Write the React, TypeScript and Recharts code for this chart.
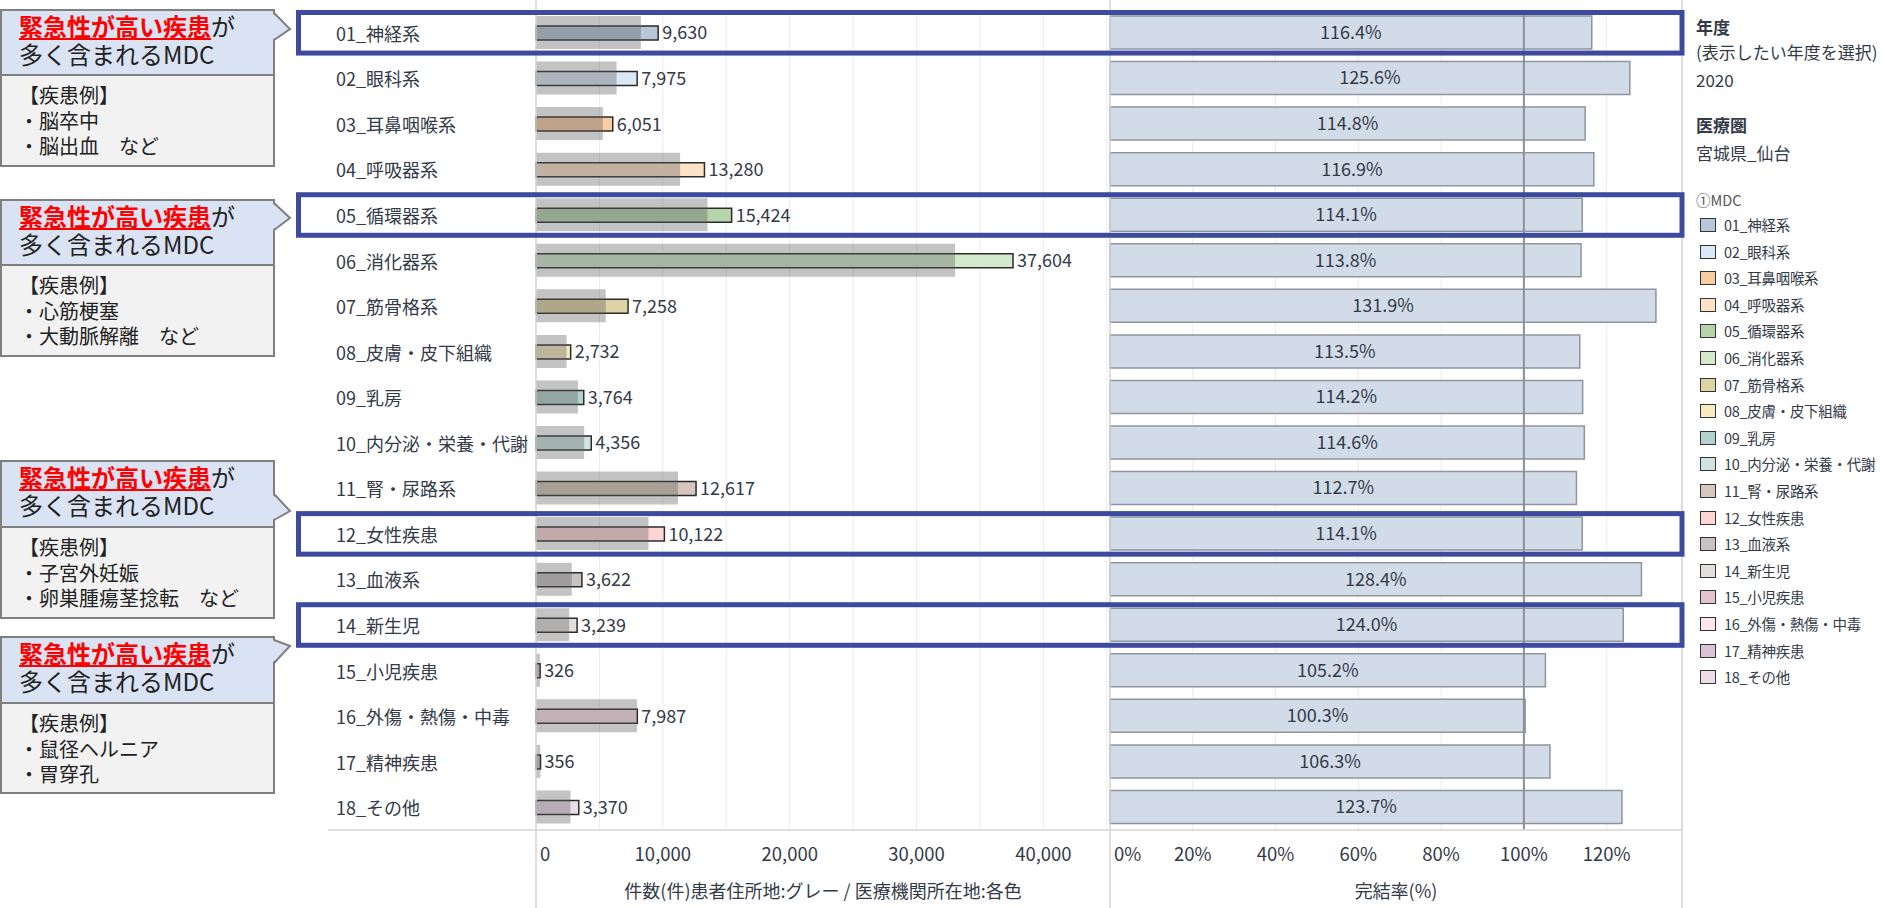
import React from 'react';
import {
  BarChart,
  Bar,
  XAxis,
  YAxis,
  CartesianGrid,
  Cell,
  LabelList,
  ReferenceLine,
} from 'recharts';

const MDC = [
  '01_神経系', '02_眼科系', '03_耳鼻咽喉系', '04_呼吸器系', '05_循環器系', '06_消化器系',
  '07_筋骨格系', '08_皮膚・皮下組織', '09_乳房', '10_内分泌・栄養・代謝', '11_腎・尿路系',
  '12_女性疾患', '13_血液系', '14_新生児', '15_小児疾患', '16_外傷・熱傷・中毒',
  '17_精神疾患', '18_その他',
];

// 医療機関所在地ベースの件数 (colored bars)
const HOSPITAL = [9630, 7975, 6051, 13280, 15424, 37604, 7258, 2732, 3764, 4356, 12617, 10122, 3622, 3239, 326, 7987, 356, 3370];
// 患者住所地ベースの件数 (gray bars)
const RESIDENCE = [8270, 6350, 5270, 11360, 13520, 33040, 5500, 2410, 3300, 3800, 11200, 8870, 2820, 2610, 310, 7960, 335, 2720];
// 完結率 (%)
const RATE = [116.4, 125.6, 114.8, 116.9, 114.1, 113.8, 131.9, 113.5, 114.2, 114.6, 112.7, 114.1, 128.4, 124.0, 105.2, 100.3, 106.3, 123.7];

const COLORS = [
  '#b7c6d8', '#dbe8f5', '#f8cda3', '#fde2c8', '#b5d4ae', '#d3ebcb', '#ded3a5', '#f8ebbf', '#b2d2cf',
  '#cfe4e1', '#d5c7bd', '#fdd5d5', '#c7c3c3', '#e2e0de', '#e6c1ce', '#fde5ed', '#dac3d5', '#ecdcea',
];

const COUNT_TICKS = [0, 5000, 10000, 15000, 20000, 25000, 30000, 35000, 40000, 45000];
const RATE_TICKS = [0, 20, 40, 60, 80, 100, 120];

const HIGHLIGHTED = ['01_神経系', '05_循環器系', '12_女性疾患', '14_新生児'];

const CALLOUTS = [
  { top: 10, headBottom: 75, bottom: 166, notch: [13, 29, 40], examples: ['・脳卒中', '・脳出血　など'] },
  { top: 200, headBottom: 265, bottom: 356, notch: [203, 218, 230], examples: ['・心筋梗塞', '・大動脈解離　など'] },
  { top: 461, headBottom: 527, bottom: 618, notch: [494, 511, 520], examples: ['・子宮外妊娠', '・卵巣腫瘍茎捻転　など'] },
  { top: 637, headBottom: 703, bottom: 793, notch: [640, 646, 663], examples: ['・鼠径ヘルニア', '・胃穿孔'] },
];

const FONT = '"Noto Sans CJK JP", "Noto Sans", sans-serif';
const TEXT = '#333a48';
const PLOT_TOP = 10;
const PLOT_BOTTOM = 830;
const BAND = (PLOT_BOTTOM - PLOT_TOP) / MDC.length;

const data = MDC.map((name, i) => ({
  name,
  hospital: HOSPITAL[i],
  residence: RESIDENCE[i],
  rate: RATE[i],
}));

function CategoryTick(props: any) {
  const { y, payload } = props;
  return (
    <text x={46} y={y} dominantBaseline="central" fontSize={18} fill={TEXT} fontFamily={FONT}>
      {payload.value}
    </text>
  );
}

function CountTick(props: any) {
  const { x, payload } = props;
  const v = payload.value as number;
  if (v % 10000 !== 0) return <g />;
  return (
    <text
      x={v === 0 ? x + 4 : x}
      y={853}
      textAnchor={v === 0 ? 'start' : 'middle'}
      dominantBaseline="central"
      fontSize={18.5}
      fill={TEXT}
      fontFamily={FONT}
    >
      {v.toLocaleString('en-US')}
    </text>
  );
}

function RateTick(props: any) {
  const { x, payload } = props;
  const v = payload.value as number;
  return (
    <text
      x={v === 0 ? x + 4 : x}
      y={853}
      textAnchor={v === 0 ? 'start' : 'middle'}
      dominantBaseline="central"
      fontSize={18.5}
      fill={TEXT}
      fontFamily={FONT}
    >
      {v}%
    </text>
  );
}

function CountChart() {
  return (
    <div style={{ position: 'absolute', left: 290, top: 0 }}>
      <BarChart
        width={820}
        height={908}
        data={data}
        layout="vertical"
        margin={{ top: PLOT_TOP, right: 0, left: 0, bottom: 0 }}
      >
        <CartesianGrid horizontal={false} stroke="#ececec" />
        <XAxis
          type="number"
          domain={[0, 45250]}
          ticks={COUNT_TICKS}
          interval={0}
          height={78}
          axisLine={false}
          tickLine={false}
          tick={CountTick}
          label={{
            value: '件数(件)患者住所地:グレー / 医療機関所在地:各色',
            position: 'insideBottom',
            offset: 10,
            fill: TEXT,
            fontSize: 18,
            fontFamily: FONT,
          }}
        />
        <YAxis
          yAxisId="outer"
          type="category"
          dataKey="name"
          width={246}
          axisLine={false}
          tickLine={false}
          tick={CategoryTick}
          interval={0}
        />
        <YAxis yAxisId="inner" type="category" dataKey="name" hide />
        <Bar
          yAxisId="inner"
          dataKey="hospital"
          barSize={14}
          stroke="#2b2b2b"
          strokeWidth={1.5}
          isAnimationActive={false}
        >
          {data.map((d, i) => (
            <Cell key={d.name} fill={COLORS[i]} />
          ))}
          <LabelList
            dataKey="hospital"
            position="right"
            offset={4}
            formatter={(v: any) => Number(v).toLocaleString('en-US')}
            fill={TEXT}
            fontSize={18}
            fontFamily={FONT}
          />
        </Bar>
        <Bar
          yAxisId="outer"
          dataKey="residence"
          barSize={33}
          fill="#5d5d5d"
          fillOpacity={0.37}
          isAnimationActive={false}
        />
      </BarChart>
    </div>
  );
}

function RateChart() {
  return (
    <div style={{ position: 'absolute', left: 1100, top: 0 }}>
      <BarChart
        width={590}
        height={908}
        data={data}
        layout="vertical"
        margin={{ top: PLOT_TOP, right: 8, left: 10, bottom: 0 }}
      >
        <CartesianGrid horizontal={false} stroke="#ececec" />
        <XAxis
          type="number"
          domain={[0, 138.2]}
          ticks={RATE_TICKS}
          interval={0}
          height={78}
          axisLine={false}
          tickLine={false}
          tick={RateTick}
          label={{
            value: '完結率(%)',
            position: 'insideBottom',
            offset: 10,
            fill: TEXT,
            fontSize: 18,
            fontFamily: FONT,
          }}
        />
        <YAxis type="category" dataKey="name" hide />
        <Bar
          dataKey="rate"
          barSize={33}
          fill="#d2dce8"
          stroke="#8e959f"
          strokeWidth={1.5}
          isAnimationActive={false}
        >
          <LabelList
            dataKey="rate"
            position="center"
            formatter={(v: any) => `${Number(v).toFixed(1)}%`}
            fill={TEXT}
            fontSize={18}
            fontFamily={FONT}
          />
        </Bar>
        <ReferenceLine x={100} stroke="#8a9099" strokeWidth={2} />
      </BarChart>
    </div>
  );
}

function Overlay() {
  return (
    <svg
      width={1882}
      height={908}
      style={{ position: 'absolute', left: 0, top: 0, pointerEvents: 'none' }}
    >
      {/* panel frame lines */}
      <line x1={536} y1={0} x2={536} y2={908} stroke="#d4d4d4" strokeWidth={1.5} />
      <line x1={1110} y1={0} x2={1110} y2={908} stroke="#d4d4d4" strokeWidth={1.5} />
      <line x1={1682} y1={0} x2={1682} y2={908} stroke="#d4d4d4" strokeWidth={1.5} />
      <line x1={328} y1={PLOT_BOTTOM} x2={1682} y2={PLOT_BOTTOM} stroke="#d4d4d4" strokeWidth={1.5} />

      {/* highlighted MDC rows */}
      {HIGHLIGHTED.map((name) => {
        const idx = MDC.indexOf(name);
        const y = PLOT_TOP + idx * BAND;
        return (
          <rect
            key={name}
            x={298.5}
            y={y + 2.5}
            width={1682 - 298.5}
            height={BAND - 5}
            fill="none"
            stroke="#3d4a9e"
            strokeWidth={5}
          />
        );
      })}

      {/* callout boxes */}
      {CALLOUTS.map((c, i) => (
        <g key={i}>
          <rect x={1} y={c.top} width={273} height={c.headBottom - c.top} fill="#dae3f3" stroke="#7f7f7f" strokeWidth={2} />
          <rect x={1} y={c.headBottom} width={273} height={c.bottom - c.headBottom} fill="#f2f2f2" stroke="#7f7f7f" strokeWidth={2} />
          <polygon
            points={`272,${c.notch[0]} 290,${c.notch[1]} 272,${c.notch[2]}`}
            fill="#dae3f3"
          />
          <polyline
            points={`274,${c.notch[0]} 290,${c.notch[1]} 274,${c.notch[2]}`}
            fill="none"
            stroke="#7f7f7f"
            strokeWidth={2}
          />
        </g>
      ))}
    </svg>
  );
}

function CalloutTexts() {
  return (
    <>
      {CALLOUTS.map((c, i) => (
        <React.Fragment key={i}>
          <div
            style={{
              position: 'absolute',
              left: 19,
              top: c.top + 2,
              fontSize: 24,
              lineHeight: '28px',
              color: '#222',
              whiteSpace: 'nowrap',
            }}
          >
            <span style={{ color: '#ff0000', fontWeight: 700, textDecoration: 'underline' }}>
              緊急性が高い疾患
            </span>
            が
            <br />
            多く含まれるMDC
          </div>
          <div
            style={{
              position: 'absolute',
              left: 19,
              top: c.headBottom + 7,
              fontSize: 20,
              lineHeight: '25.5px',
              color: '#222',
              whiteSpace: 'pre',
            }}
          >
            {['【疾患例】', ...c.examples].join('\n')}
          </div>
        </React.Fragment>
      ))}
    </>
  );
}

function SidePanel() {
  const line = (top: number, text: string, extra: React.CSSProperties = {}) => (
    <div style={{ position: 'absolute', left: 1696, top, fontSize: 17, lineHeight: '20px', color: TEXT, whiteSpace: 'nowrap', ...extra }}>
      {text}
    </div>
  );
  return (
    <>
      {line(17, '年度', { fontWeight: 700 })}
      {line(42, '(表示したい年度を選択)')}
      {line(70, '2020')}
      {line(115, '医療圏', { fontWeight: 700 })}
      {line(143, '宮城県_仙台')}
      {line(190, '①MDC', { fontSize: 14.5, color: '#555' })}
      {MDC.map((name, i) => {
        const cy = 225 + i * 26.6;
        return (
          <React.Fragment key={name}>
            <div
              style={{
                position: 'absolute',
                left: 1700,
                top: cy - 7,
                width: 14,
                height: 12,
                background: COLORS[i],
                border: '1.5px solid #333',
              }}
            />
            <div
              style={{
                position: 'absolute',
                left: 1724,
                top: cy - 10,
                fontSize: 14.5,
                letterSpacing: -0.3,
                lineHeight: '20px',
                color: TEXT,
                whiteSpace: 'nowrap',
              }}
            >
              {name}
            </div>
          </React.Fragment>
        );
      })}
    </>
  );
}

export default function App() {
  return (
    <div
      style={{
        position: 'absolute',
        left: 0,
        top: 0,
        width: 1882,
        height: 908,
        overflow: 'hidden',
        background: '#ffffff',
        fontFamily: FONT,
      }}
    >
      <CountChart />
      <RateChart />
      <Overlay />
      <CalloutTexts />
      <SidePanel />
    </div>
  );
}
